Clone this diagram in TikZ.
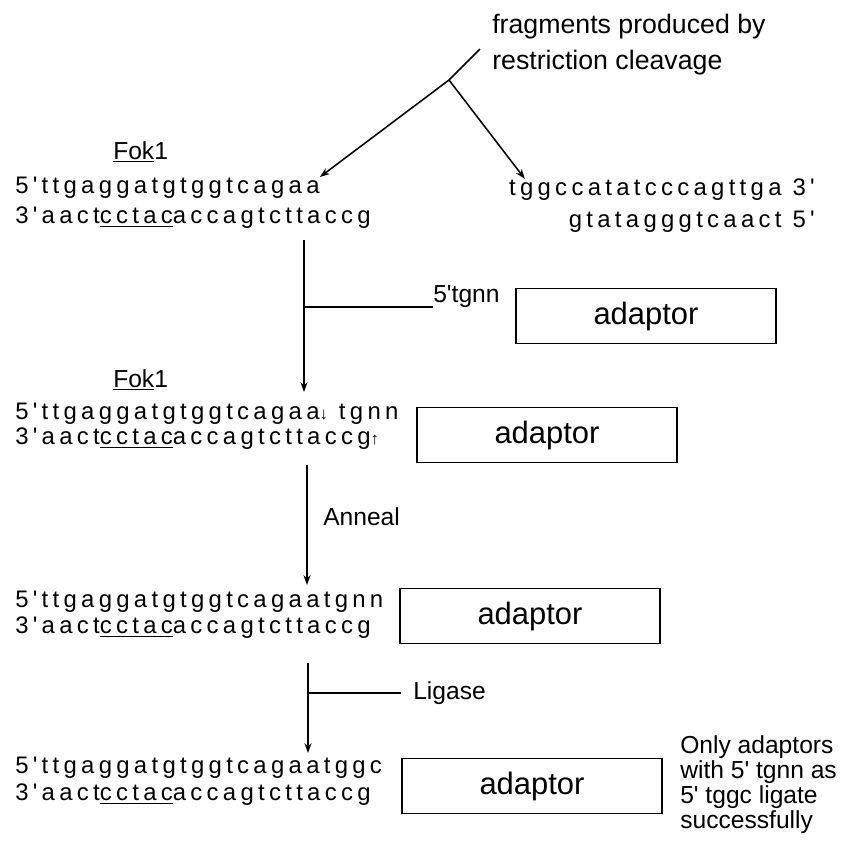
\documentclass[tikz,border=0pt]{standalone}
\usepackage{fontspec}
\setmainfont{Liberation Sans}
\newfontfamily\seqfont[LetterSpace=18]{Liberation Sans}
\newfontfamily\lblfont{Liberation Sans}
\usetikzlibrary{arrows.meta}
\tikzset{
  seq/.style={anchor=west, inner sep=0pt, font=\seqfont\fontsize{17}{20}\selectfont},
  lbl/.style={anchor=west, inner sep=0pt, font=\lblfont\fontsize{17.5}{20}\selectfont},
  adaptorbox/.style={draw, line width=1pt, minimum width=6.5cm, minimum height=1.375cm, inner sep=0pt, font=\fontsize{22}{24}\selectfont},
  strand/.style={line width=1.1pt},
  arrowline/.style={-{Stealth[length=7pt,width=5pt]}}
}
\newcommand{\nick}[1]{{\fontsize{12}{12}\selectfont #1}}
\begin{document}
\begin{tikzpicture}[x=0.025cm, y=-0.025cm]
\useasboundingbox (0,0) rectangle (844,844);

% cleavage
\node[lbl, font=\fontsize{19}{25.6}\selectfont, align=left] (cleave) at (492,45) {fragments produced by\\restriction cleavage};
\coordinate (slash) at (480,49);
\coordinate (fork) at (449,80);

\node[lbl] (fok1) at (113,152) {\underline{Fok}1};
\node[seq] (a1) at (15,188) {5'ttgaggatgtggtcagaa};
\node[seq] (b1) at (15,218) {3'aact\underline{cctac}accagtcttaccg};
\node[seq, anchor=east] (c1) at (815,190) {tggccatatcccagttga 3'};
\node[seq, anchor=east] (d1) at (815,222) {gtatagggtcaact 5'};

\path[draw,strand] (slash) -- (fork);
\path[draw,strand,arrowline] (fork) -- (a1.north east);
\path[draw,strand,arrowline] (fork) -- ([xshift=0.4cm]c1.north west);

% add adaptor
\coordinate (s1top) at (304,240);
\coordinate (s1join) at (304,307);
\coordinate (s1end) at (304,392);
\node[lbl] (tgnn) at (433,297) {5'tgnn};
\node[adaptorbox] (ad1) at (646,316) {adaptor};
\path[draw,strand,arrowline] (s1top) -- (s1end);
\path[draw,strand] (s1join) -- (s1join -| tgnn.west);

\node[lbl] (fok2) at (113,380) {\underline{Fok}1};
\node[seq] (a2) at (15,414) {5'ttgaggatgtggtcagaa\nick{↓} tgnn};
\node[seq] (b2) at (15,439) {3'aact\underline{cctac}accagtcttaccg\nick{↑}};
\node[adaptorbox] (ad2) at (547,435) {adaptor};

% anneal
\coordinate (s2top) at (307,465);
\coordinate (s2end) at (307,585);
\node[lbl] (anneal) at (323,517) {Anneal};
\path[draw,strand,arrowline] (s2top) -- (s2end);

\node[seq] (a3) at (15,602) {5'ttgaggatgtggtcagaatgnn};
\node[seq] (b3) at (15,628) {3'aact\underline{cctac}accagtcttaccg};
\node[adaptorbox] (ad3) at (530,616) {adaptor};

% ligase
\coordinate (s3top) at (308,663);
\coordinate (s3join) at (308,693);
\coordinate (s3end) at (308,753);
\node[lbl] (ligase) at (413,693) {Ligase};
\path[draw,strand,arrowline] (s3top) -- (s3end);
\path[draw,strand] (s3join) -- ([xshift=-0.3cm]ligase.west);

\node[seq] (a4) at (15,768) {5'ttgaggatgtggtcagaatggc};
\node[seq] (b4) at (15,795) {3'aact\underline{cctac}accagtcttaccg};
\node[adaptorbox] (ad4) at (532,786) {adaptor};

\node[lbl, font=\lblfont\fontsize{17.5}{17.8}\selectfont, align=left] (note) at (680,785) {Only adaptors\\with 5' tgnn as\\5' tggc ligate\\successfully};
\end{tikzpicture}
\end{document}
